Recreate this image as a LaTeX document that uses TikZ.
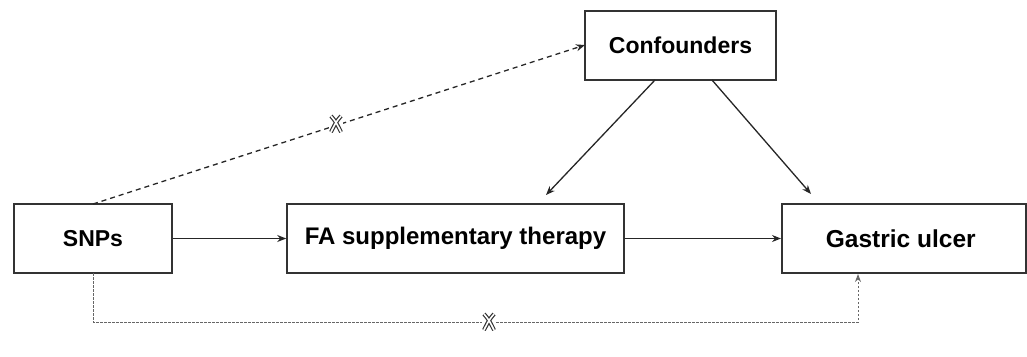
\documentclass[tikz,border=0pt]{standalone}
\usepackage{fontspec}
\setmainfont{Liberation Sans}
\usetikzlibrary{arrows.meta}
\begin{document}
\begin{tikzpicture}[x=1pt,y=-1pt,
  box/.style={draw=black!80, line width=1.6pt, fill=white, inner sep=0pt, font=\bfseries\fontsize{23}{27}\selectfont},
  arr/.style={line width=1.3pt, draw=black!85, -{Stealth[length=9pt,width=7pt]}},
  dsh/.style={line width=1.3pt, draw=black!85, dash pattern=on 5pt off 4pt, -{Stealth[length=9pt,width=7pt]}},
  dot/.style={line width=1pt, draw=black!60, dash pattern=on 2.5pt off 1.5pt, -{Stealth[length=8pt,width=6pt,fill=black!45]}}]
\useasboundingbox (0,0) rectangle (1027,356);
\node[box, minimum width=158pt, minimum height=69pt] (snp) at (93,238.5) {SNPs};
\node[box, minimum width=337pt, minimum height=69pt] (fa) at (455.5,238.5) {\fontsize{24}{28}\selectfont FA supplementary therapy};
\node[box, minimum width=244pt, minimum height=69pt, anchor=west] (gu) at (781,238.5) {\hspace{-6pt}\fontsize{24.5}{28}\selectfont Gastric ulcer};
\node[box, minimum width=191pt, minimum height=69pt] (conf) at (680.5,45.5) {Confounders};
\coordinate (c1) at (655,80);
\coordinate (c1e) at (546,195);
\coordinate (c2) at (712,80);
\coordinate (c2e) at (811,194);
\draw[arr] (snp.east) -- (fa.west);
\draw[arr] (fa.east) -- (gu.west);
\draw[arr] (c1) -- (c1e);
\draw[arr] (c2) -- (c2e);
\coordinate (s1) at (93,204);
\coordinate (cf) at (585,45);
\draw[dsh] (s1) -- (cf);
\coordinate (sb) at (93,273);
\coordinate (d1) at (93,322);
\coordinate (d2) at (858,322);
\coordinate (ge) at (858,274);
\draw[dot] (sb) -- (d1) -- (d2) -- (ge);
\coordinate (x1) at (336,124);
\coordinate (x2) at (489,322);
\foreach \p in {x1,x2}{
  \begin{scope}[shift={(\p)}]
    \fill[white] (-7,-10) rectangle (7,10);
    \draw[line width=4pt, black!80] (-5,-8) .. controls (0,-2) .. (5,8) (5,-8) .. controls (0,-2) .. (-5,8);
    \draw[line width=1.6pt, white] (-5,-8) .. controls (0,-2) .. (5,8) (5,-8) .. controls (0,-2) .. (-5,8);
  \end{scope}
}
\end{tikzpicture}
\end{document}
